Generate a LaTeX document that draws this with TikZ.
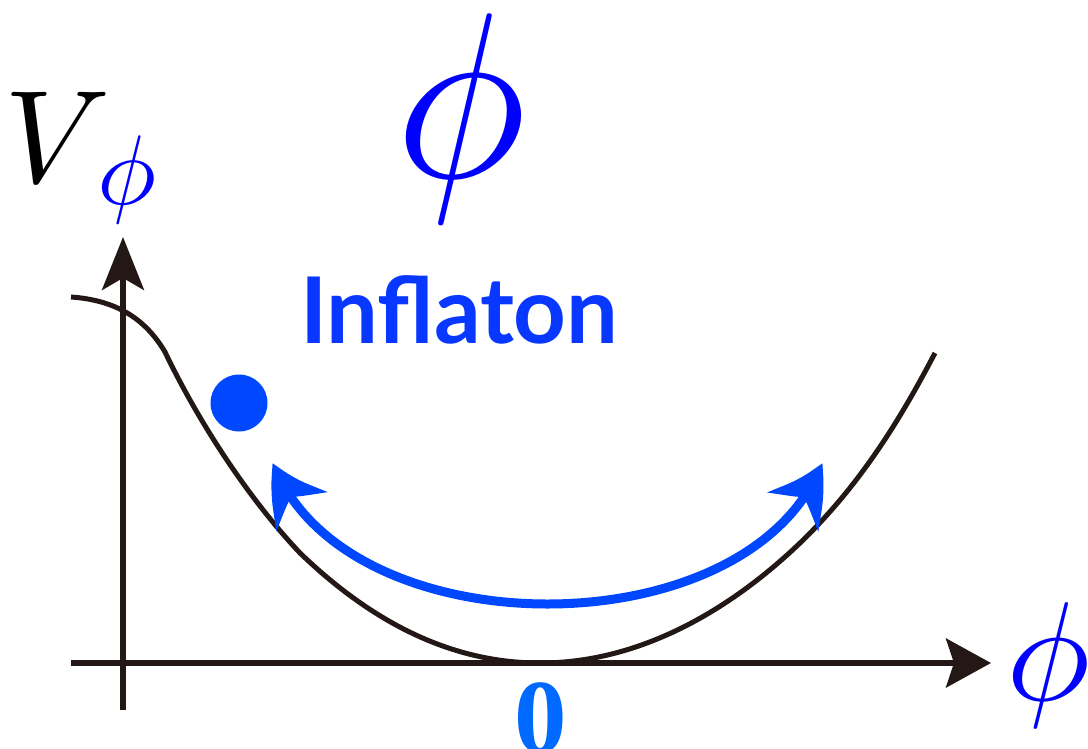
\documentclass[tikz,border=0pt]{standalone}
\usepackage{graphicx}
\usepackage{fontspec}
\newfontfamily\infont{Lato}
\newfontfamily\zerofont{Liberation Serif}
\usetikzlibrary{arrows.meta,bending}
\definecolor{phiblue}{RGB}{0,0,255}
\definecolor{infblue}{RGB}{8,55,255}
\definecolor{dotblue}{RGB}{0,72,255}
\definecolor{zeroblue}{RGB}{0,105,255}
\definecolor{axisblack}{RGB}{35,24,21}
\tikzset{
  axisline/.style={draw=axisblack, line width=5.5pt},
  potential/.style={draw=axisblack, line width=5pt},
  swing/.style={draw=dotblue, line width=9pt},
  lbl/.style={inner sep=0pt, outer sep=0pt},
}
\begin{document}
\begin{tikzpicture}[x=1pt,y=-1pt]
\useasboundingbox (0,0) rectangle (1088,748);
\clip (0,0) rectangle (1088,748);
% axes
\coordinate (xs) at (71,663);
\coordinate (xt) at (991,663);
\coordinate (ys) at (123,710);
\coordinate (yt) at (123,237);
\draw[axisline, -{Stealth[length=45pt,width=49pt,inset=8pt]}] (xs) -- (xt);
\draw[axisline, -{Stealth[length=53pt,width=42pt,inset=12pt]}] (ys) -- (yt);
% potential curve
\coordinate (c0) at (71,297);
\coordinate (c1) at (165,352);
\coordinate (c2) at (300,553);
\coordinate (c3) at (540,663);
\coordinate (c4) at (800,543);
\coordinate (c5) at (935,353);
\draw[potential] (c0) .. controls (115,300) and (145,318) .. (c1)
  .. controls (200,425) and (250,500) .. (c2)
  .. controls (380,630) and (460,663) .. (c3)
  .. controls (640,663) and (730,610) .. (c4)
  .. controls (860,485) and (900,420) .. (c5);
% oscillation arrow
\coordinate (al) at (273,463);
\coordinate (ar) at (822,463);
\draw[swing, {Stealth[length=57pt,width=63pt,inset=18pt,bend]}-{Stealth[length=57pt,width=63pt,inset=18pt,bend]}]
  (al) .. controls (345,651) and (750,651) .. (ar);
% ball
\node[circle, fill=dotblue, minimum size=57pt, inner sep=0pt] (ball) at (239,403) {};
% labels
\node[lbl] (V) at (58,137) {\scalebox{13.2}{$V$}};
\node[lbl, text=phiblue] (Vsub) at (127,180) {\scalebox{9.9}{$\phi$}};
\node[lbl, text=phiblue] (bigphi) at (461,118) {\scalebox{22}[23.6]{$\phi$}};
\node[lbl, text=phiblue] (xphi) at (1048,665) {\scalebox{14.1}{$\phi$}};
\node[lbl, text=infblue, anchor=base west] (infl) at (300,343) {\fontsize{92}{100}\selectfont\infont\bfseries Inflaton};
\node[lbl, text=zeroblue, anchor=north] (zero) at (541,683) {\fontsize{105}{110}\selectfont\zerofont\bfseries 0};
\end{tikzpicture}
\end{document}
